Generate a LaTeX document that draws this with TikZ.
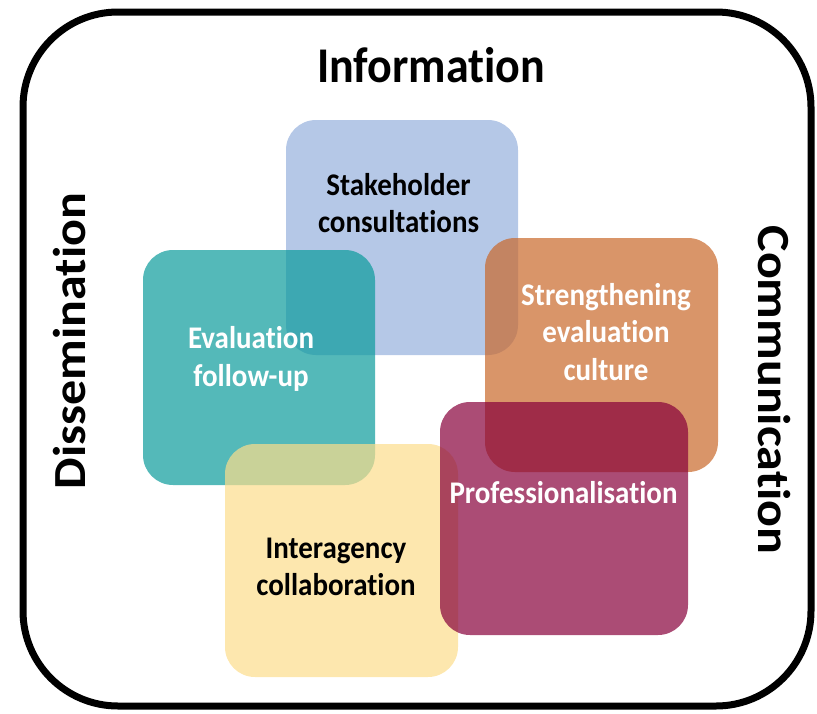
\documentclass[tikz,border=0pt]{standalone}
\usepackage{fontspec}
\setmainfont[Ligatures=NoCommon]{Carlito}
\newfontfamily\lblfont[FakeStretch=0.92, Ligatures=NoCommon]{Carlito}
\newfontfamily\sidefont[FakeStretch=1.087, Ligatures=NoCommon]{Carlito}
\definecolor{cblue}{RGB}{150,176,221}
\definecolor{cteal}{RGB}{11,155,155}
\definecolor{corange}{RGB}{201,104,42}
\definecolor{cyellow}{RGB}{252,221,139}
\definecolor{cmaroon}{RGB}{135,0,58}
\tikzset{
  tile/.style={rounded corners=30pt, inner sep=0pt, outer sep=0pt, fill opacity=0.7, draw=none},
  title/.style={font=\lblfont\bfseries\fontsize{50}{56}\selectfont, inner sep=0pt, anchor=base},
  side/.style={font=\sidefont\bfseries\fontsize{46}{52}\selectfont, inner sep=0pt, anchor=base},
  tiletext/.style={font=\lblfont\bfseries\fontsize{31.5}{37.5}\selectfont, inner sep=0pt, align=center},
}
\begin{document}
\begin{tikzpicture}[x=1pt,y=-1pt]
\useasboundingbox (0,0) rectangle (817,713);
\node[draw, line width=7pt, rounded corners=95pt, minimum width=788pt, minimum height=694pt, inner sep=0pt] (frame) at (417,359) {};
\node[tile, fill=cblue, minimum width=232pt, minimum height=235pt] (blue) at (402,237.5) {};
\node[tile, fill=cteal, minimum width=232pt, minimum height=235pt] (teal) at (259,367.5) {};
\node[tile, fill=corange, minimum width=233pt, minimum height=234pt] (orange) at (601.5,355) {};
\node[tile, fill=cyellow, minimum width=233pt, minimum height=233pt] (yellow) at (341.5,560.5) {};
\node[tile, fill=cmaroon, minimum width=248pt, minimum height=233pt] (maroon) at (564,518.5) {};
\node[title] (info) at (431,82) {Information};
\node[side, rotate=90] (diss) at (85,341) {Dissemination};
\node[side, rotate=-90] (comm) at (758,390) {Communication};
\node[tiletext, text=black] (tblue) at (398.5,203) {Stakeholder\\consultations};
\node[tiletext, text=white] (tteal) at (251,359) {Evaluation\\follow-up};
\node[tiletext, text=white] (torange) at (606,332) {Strengthening\\evaluation\\culture};
\node[tiletext, text=black] (tyellow) at (336,567) {Interagency\\collaboration};
\node[tiletext, text=white, anchor=base] (tmaroon) at (563.5,503) {Professionalisation};
\end{tikzpicture}
\end{document}
